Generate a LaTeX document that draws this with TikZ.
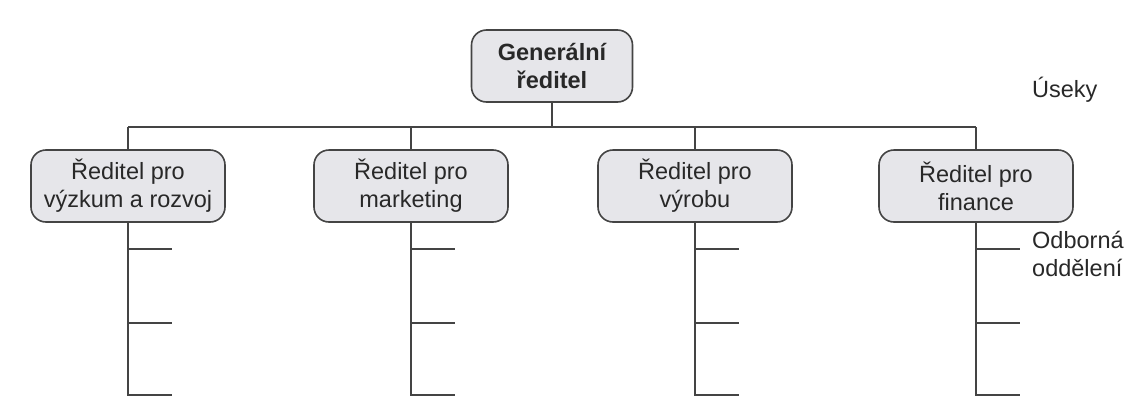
\documentclass[tikz,border=0pt]{standalone}
\usepackage{fontspec}
\setmainfont{Liberation Sans}
\usepackage{tikz}
\definecolor{orgline}{RGB}{68, 68, 68}
\definecolor{orgfill}{RGB}{230, 230, 234}
\definecolor{orgtext}{RGB}{40, 40, 40}

\begin{document}
\begin{tikzpicture}[x=1pt, y=-1pt,
    orgbox/.style={draw=orgline, line width=1.6pt, fill=orgfill, rounded corners=15pt,
        align=center, inner sep=0pt, minimum height=72pt, minimum width=194pt,
        text=orgtext, font=\fontsize{23.5}{28}\selectfont},
    orglink/.style={draw=orgline, line width=1.8pt},
    orglabel/.style={text=orgtext, align=left, inner sep=0pt, font=\fontsize{23.5}{28}\selectfont}]
\useasboundingbox (0,0) rectangle (1128,410);

% Top of the tree
\node[orgbox, minimum width=161pt, font=\fontsize{23.5}{28}\selectfont\bfseries] (gen) at (552,66) {Generální\\ředitel};

% Divisions with their departments
\foreach \x/\n/\t in {128/vyzkum/{Ředitel pro\\výzkum a rozvoj},
                      411/marketing/{Ředitel pro\\marketing},
                      695/vyroba/{Ředitel pro\\výrobu},
                      976/finance/{Ředitel pro\\finance}} {
    \node[orgbox] (\n) at (\x,186) {\t};
    \coordinate (\n-bus) at (\x,127);
    \draw[orglink] (\n-bus) -- (\n.north);
    \foreach \y/\k in {249/1, 323/2, 395/3} {
        \coordinate (\n-s\k) at (\x,\y);
        \coordinate (\n-e\k) at (\x+44,\y);
    }
    \draw[orglink] (\n-s1) -- (\n-e1);
    \draw[orglink] (\n-s2) -- (\n-e2);
    \draw[orglink] (\n.south) -- (\n-s3) -- (\n-e3);
}

% Bus line
\draw[orglink] (gen.south) -- (gen |- vyzkum-bus);
\draw[orglink] (vyzkum-bus) -- (finance-bus);

% Level labels
\node[orglabel, anchor=west] (useky) at (1032,90) {Úseky};
\node[orglabel, anchor=west] (oddeleni) at (1032,254) {Odborná\\oddělení};
\end{tikzpicture}
\end{document}
